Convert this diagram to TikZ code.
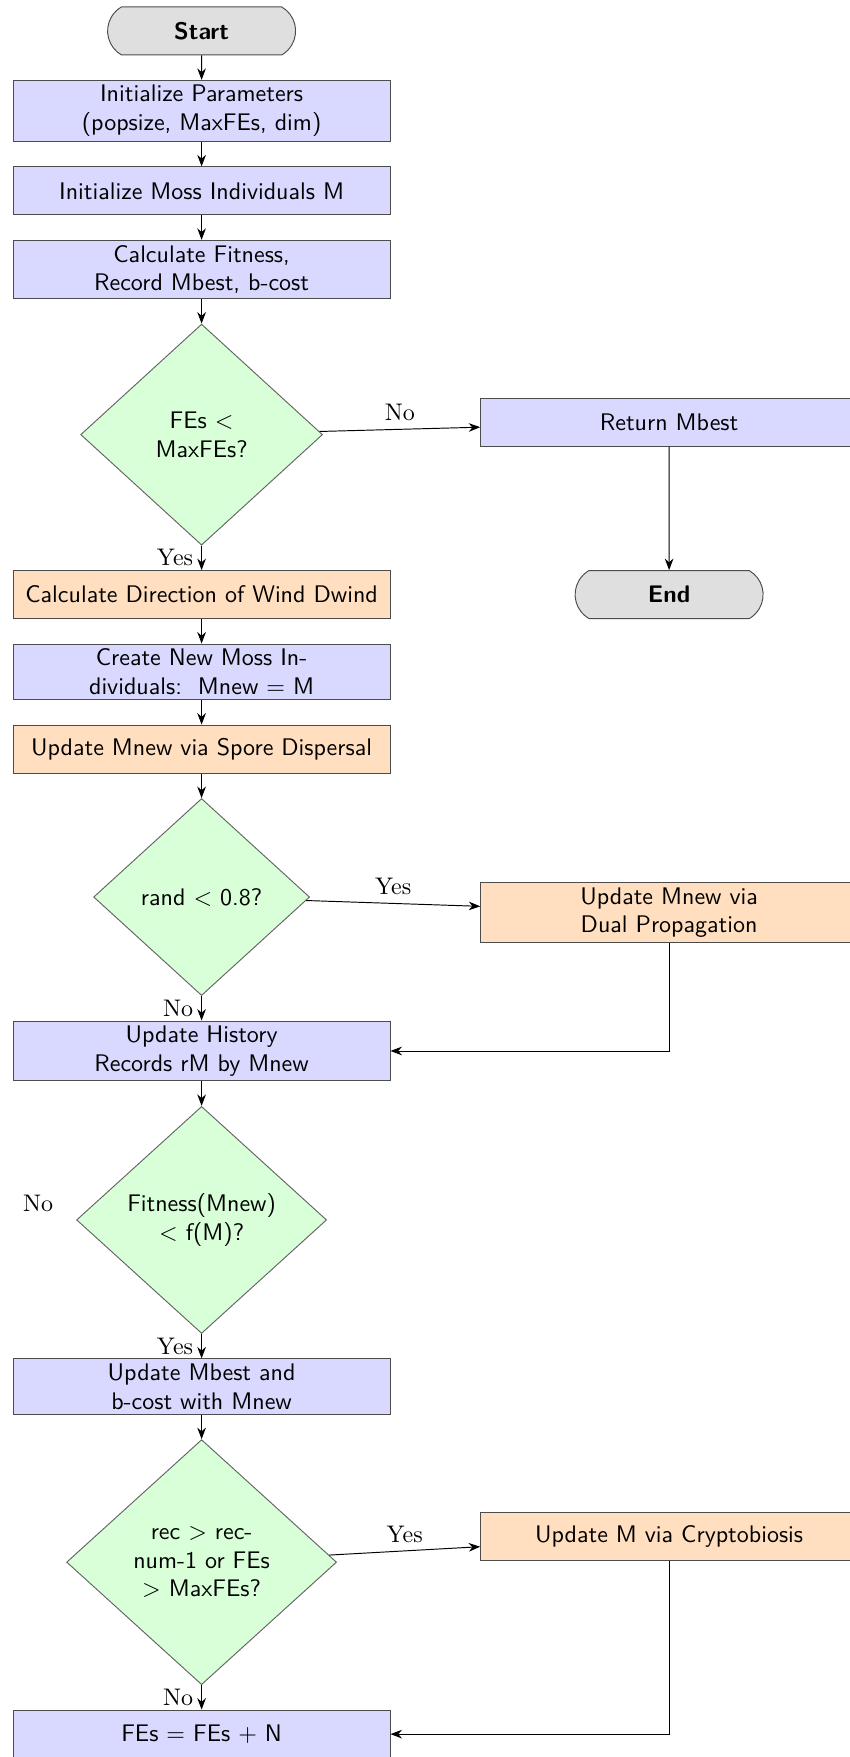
\documentclass[tikz,border=0pt]{standalone}
\usepackage{amsmath}
\usepackage{xcolor}
\usepackage{tikz}
\usetikzlibrary{arrows.meta,positioning,shapes.geometric,shapes.misc}

\begin{document}
\begin{tikzpicture}[->, >=Stealth, node distance=10.2pt,
  terminal/.style={rounded rectangle, rounded rectangle arc length=120, draw=black!70, fill=gray!25,
    minimum width=85pt, minimum height=20pt, font=\sffamily\bfseries},
  process/.style={rectangle, draw=black!70, fill=blue!15, minimum width=157pt, minimum height=20pt,
    inner ysep=2pt, align=center, font=\sffamily},
  action/.style={process, fill=orange!25},
  decision/.style={diamond, draw=black!60, fill=green!15, aspect=1.1, inner sep=0pt, align=center, font=\sffamily}]
  \useasboundingbox (-84pt,12.9pt) rectangle (269.8pt,-719.2pt);

  % main column
  \node[terminal] (St) {Start};
  \node[process] (Init) [below=of St] {Initialize Parameters\\(popsize, MaxFEs, dim)};
  \node[process] (Moss) [below=of Init] {Initialize Moss Individuals M};
  \node[process] (Fit) [below=of Moss] {Calculate Fitness,\\Record Mbest, b-cost};
  \node[decision, minimum width=100.8pt, minimum height=92.1pt] (Q1) [below=of Fit] {FEs $<$\\MaxFEs?};
  \node[action] (Wind) [below=of Q1] {Calculate Direction of Wind Dwind};
  \node[process] (New) [below=of Wind] {Create New Moss In-\\dividuals:\ \ Mnew $=$ M};
  \node[action] (Sp) [below=of New] {Update Mnew via Spore Dispersal};
  \node[decision, minimum width=90pt, minimum height=82.1pt] (Q2) [below=of Sp] {rand $<$ 0.8?};
  \node[process] (Hist) [below=of Q2] {Update History\\Records rM by Mnew};
  \node[decision, minimum width=104.2pt, minimum height=94.6pt] (Q3) [below=of Hist] {Fitness(Mnew)\\$<$ f(M)?};
  \node[process] (Best) [below=of Q3] {Update Mbest and\\b-cost with Mnew};
  \node[decision, minimum width=112.5pt, minimum height=102.1pt] (Q4) [below=of Best] {rec $>$ rec-\\num-1 or FEs\\$>$ MaxFEs?};
  \node[process] (Fe) [below=of Q4] {FEs $=$ FEs $+$ N};

  % side column
  \node[process, on grid] (Ret) [right=194.8pt of Q1, yshift=5.2pt] {Return Mbest};
  \node[terminal, on grid] (En) [right=194.8pt of Wind] {End};
  \node[action, on grid] (Dp) [right=194.8pt of Q2, yshift=-6.5pt] {Update Mnew via\\Dual Propagation};
  \node[action, on grid] (Cry) [right=194.8pt of Q4, yshift=10.8pt] {Update M via Cryptobiosis};
  \node (NoQ3) [left=6pt of Q3, yshift=7pt] {No};

  \path (St) edge (Init)
        (Init) edge (Moss)
        (Moss) edge (Fit)
        (Fit) edge (Q1)
        (Q1) edge node[above] {No} (Ret)
        (Ret) edge (En)
        (Q1) edge node[left] {Yes} (Wind)
        (Wind) edge (New)
        (New) edge (Sp)
        (Sp) edge (Q2)
        (Q2) edge node[above] {Yes} (Dp)
        (Q2) edge node[left] {No} (Hist)
        (Hist) edge (Q3)
        (Q3) edge node[left] {Yes} (Best)
        (Best) edge (Q4)
        (Q4) edge node[above] {Yes} (Cry)
        (Q4) edge node[left] {No} (Fe)
        ;
  \draw (Dp) |- (Hist);
  \draw (Cry) |- (Fe);
\end{tikzpicture}
\end{document}
